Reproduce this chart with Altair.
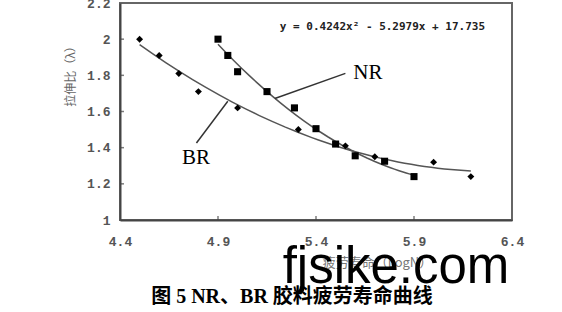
import altair as alt
import pandas as pd

# ---- data ----
br_x = [4.50, 4.60, 4.70, 4.80, 5.00, 5.31, 5.55, 5.70, 6.00, 6.19]
br_y = [2.00, 1.91, 1.81, 1.71, 1.62, 1.50, 1.41, 1.35, 1.32, 1.24]
nr_x = [4.90, 4.95, 5.00, 5.15, 5.29, 5.40, 5.50, 5.60, 5.75, 5.90]
nr_y = [2.00, 1.91, 1.82, 1.71, 1.62, 1.505, 1.42, 1.355, 1.325, 1.24]

x_ticks = [4.4, 4.9, 5.4, 5.9, 6.4]
y_ticks = [1, 1.2, 1.4, 1.6, 1.8, 2, 2.2]
x_inner_ticks = [4.9, 5.4, 5.9]
y_inner_ticks = [1.2, 1.4, 1.6, 1.8, 2.0]

series_names = ["BR", "NR"]
label_x = [4.788, 5.665]
label_y = [1.344, 1.811]
leader_br_x = [4.79, 4.95]
leader_br_y = [1.426, 1.657]
leader_nr_x = [5.19, 5.55]
leader_nr_y = [1.672, 1.811]

equation = "y = 0.4242x² - 5.2979x + 17.735"
eq_x = [5.739]
eq_y = [2.067]

x_title = "疲劳寿命（LogN）"
y_title = "拉伸比（λ）"
caption = "图 5 NR、BR 胶料疲劳寿命曲线"
watermark = "fjsike.com"

# ---- tables ----
pts = pd.DataFrame({
    "x": br_x + nr_x,
    "y": br_y + nr_y,
    "series": ["BR"] * len(br_x) + ["NR"] * len(nr_x),
})
labels = pd.DataFrame({"x": label_x, "y": label_y, "t": series_names})
leaders = pd.DataFrame({
    "x": leader_br_x + leader_nr_x,
    "y": leader_br_y + leader_nr_y,
    "g": ["BR", "BR", "NR", "NR"],
})
eq = pd.DataFrame({"x": eq_x, "y": eq_y, "t": [equation]})
xt = pd.DataFrame({"x": x_inner_ticks})
yt = pd.DataFrame({"y": y_inner_ticks})

xs = alt.Scale(domain=[4.4, 6.4], nice=False, zero=False)
ys = alt.Scale(domain=[1, 2.2], nice=False, zero=False)

x_axis = alt.Axis(
    values=x_ticks, format="~g", title=x_title, grid=False,
    ticks=False, tickSize=0, labelFlush=False, labelOverlap=False,
    labelFont="Liberation Mono", labelFontSize=13, labelFontWeight="bold",
    labelColor="#555", labelPadding=15,
    domainColor="#444", domainWidth=2,
    titleFont="Noto Sans CJK SC", titleFontSize=13, titleFontWeight="normal",
    titleColor="#777", titleX=257, titleY=42, titleAlign="center",
    titleBaseline="middle",
)
y_axis = alt.Axis(
    values=y_ticks, format="~g", title=y_title, grid=False,
    ticks=False, tickSize=0, labelOverlap=False, labelFlush=False,
    labelFont="Liberation Mono", labelFontSize=13, labelFontWeight="bold",
    labelColor="#555", labelPadding=10, labelBound=False,
    domainColor="#444", domainWidth=2,
    titleFont="Noto Sans CJK SC", titleFontSize=12, titleFontWeight="normal",
    titleColor="#666", titleX=-50, titleY=70, titleAngle=270,
    titleAlign="center", titleBaseline="middle",
)

X = alt.X("x:Q", scale=xs, axis=x_axis)
Y = alt.Y("y:Q", scale=ys, axis=y_axis)

base = alt.Chart(pts)

fits = base.transform_regression(
    "x", "y", method="poly", order=2, groupby=["series"]
).mark_line(color="#555", strokeWidth=1.5).encode(
    x=X, y=Y, detail="series:N",
)

points = base.mark_point(filled=True, color="black", opacity=1).encode(
    x=X, y=Y,
    shape=alt.Shape("series:N", scale=alt.Scale(domain=["BR", "NR"], range=["diamond", "square"]), legend=None),
    size=alt.Size("series:N", scale=alt.Scale(domain=["BR", "NR"], range=[48, 50]), legend=None),
)

leader_lines = alt.Chart(leaders).mark_line(color="#333", strokeWidth=1.5).encode(
    x=X, y=Y, detail="g:N"
)

label_text = alt.Chart(labels).mark_text(
    font="Liberation Serif", fontSize=21, color="black"
).encode(x=X, y=Y, text="t:N")

eq_text = alt.Chart(eq).mark_text(
    font="DejaVu Sans Mono", fontSize=11, fontWeight="bold", color="#222"
).encode(x=X, y=Y, text="t:N")

x_ticks_layer = alt.Chart(xt).mark_tick(
    orient="vertical", size=4, thickness=1.5, color="#444"
).encode(x=X, y=alt.value(215))

y_ticks_layer = alt.Chart(yt).mark_tick(
    orient="horizontal", size=4, thickness=1.5, color="#444"
).encode(y=Y, x=alt.value(2))

wm = alt.Chart(pd.DataFrame({"t": [watermark]})).mark_text(
    font="Liberation Sans", fontSize=51, color="black", baseline="alphabetic", clip=False
).encode(x=alt.value(276), y=alt.value(280), text="t:N")

cap = alt.Chart(pd.DataFrame({"t": [caption]})).mark_text(
    font="Liberation Serif, Noto Sans CJK SC", fontSize=20, fontWeight="bold",
    color="black", baseline="middle", clip=False
).encode(x=alt.value(172), y=alt.value(294), text="t:N")

chart = alt.layer(
    fits, points, leader_lines, label_text, eq_text, x_ticks_layer, y_ticks_layer, wm, cap
).properties(
    width=392, height=217,
    autosize=alt.AutoSizeParams(type="none"),
    padding={"left": 120, "top": 3, "right": 50, "bottom": 92},
    background="white",
).configure_view(
    stroke="#666", strokeWidth=2
).configure_axis(
    labelOverlap=False
)

chart.save("out.html", embed_options={"renderer": "svg", "actions": False})
